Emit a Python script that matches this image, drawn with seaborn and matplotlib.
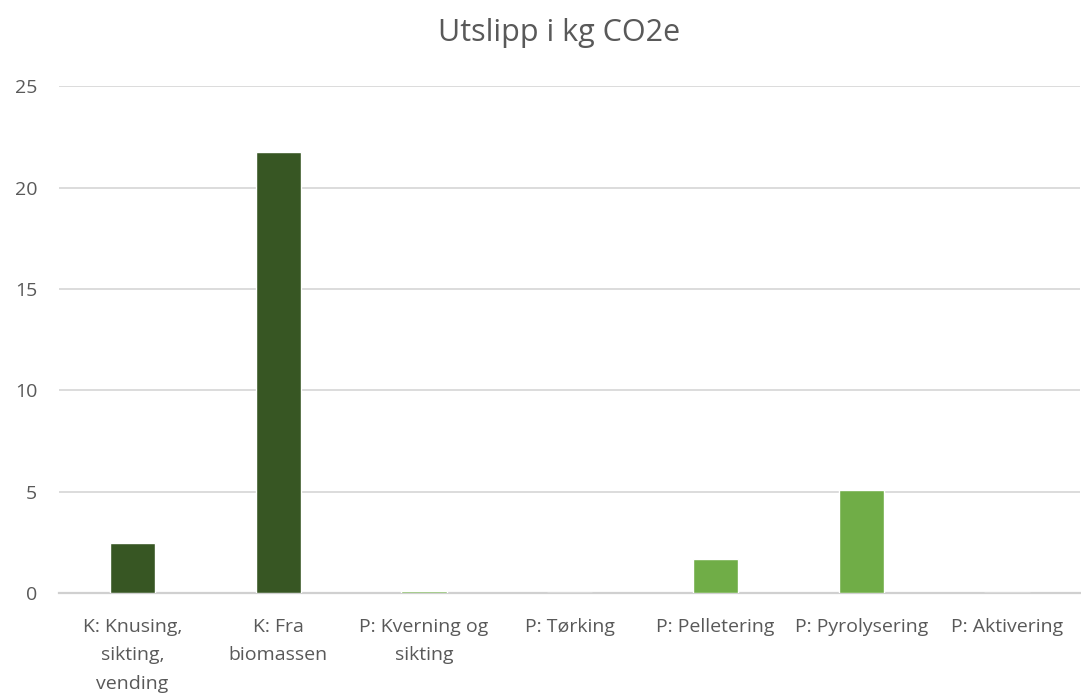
import matplotlib
matplotlib.use("Agg")
import matplotlib.pyplot as plt
import seaborn as sns
import pandas as pd

categories = [
    "K: Knusing,\nsikting,\nvending",
    "K: Fra\nbiomassen",
    "P: Kverning og\nsikting",
    "P: Tørking",
    "P: Pelletering",
    "P: Pyrolysering",
    "P: Aktivering",
]
values = [2.47, 21.75, 0.1, 0.0, 1.68, 5.08, 0.0]
bar_colors = ["#375623", "#375623", "#70AD47", "#70AD47", "#70AD47", "#70AD47", "#70AD47"]
yticks = [0, 5, 10, 15, 20, 25]

sns.set_theme(style="white")
plt.rcParams["font.family"] = ["Open Sans", "DejaVu Sans"]

df = pd.DataFrame({"kategori": categories, "utslipp": values})

fig = plt.figure(figsize=(10.81, 6.95), dpi=100)
ax = fig.add_axes([0.055, 0.147, 0.944, 0.729])

sns.barplot(data=df, x="kategori", y="utslipp", hue="kategori",
            palette=bar_colors, legend=False, width=0.31, ax=ax,
            saturation=1, zorder=3)

ax.set_ylim(0, 25)
ax.set_yticks(yticks)
ax.set_yticklabels([str(t) for t in yticks])
ax.yaxis.grid(True, color="#D9D9D9", linewidth=1.3, zorder=0)
ax.set_axisbelow(True)
for s in ["top", "right", "left"]:
    ax.spines[s].set_visible(False)
ax.spines["bottom"].set_color("#D0D0D0")
ax.spines["bottom"].set_linewidth(1.6)
ax.set_xlabel("")
ax.set_ylabel("")
ax.tick_params(axis="both", length=0, colors="#595959", labelsize=14)
ax.tick_params(axis="y", pad=16)
ax.tick_params(axis="x", pad=18)
for lbl in ax.get_xticklabels():
    lbl.set_linespacing(1.75)
ax.set_xlim(-0.5, 6.5)

fig.text(0.517, 0.953, "Utslipp i kg CO2e", ha="center", va="center",
         fontsize=22, color="#595959")

fig.savefig("out.png", dpi=100)
